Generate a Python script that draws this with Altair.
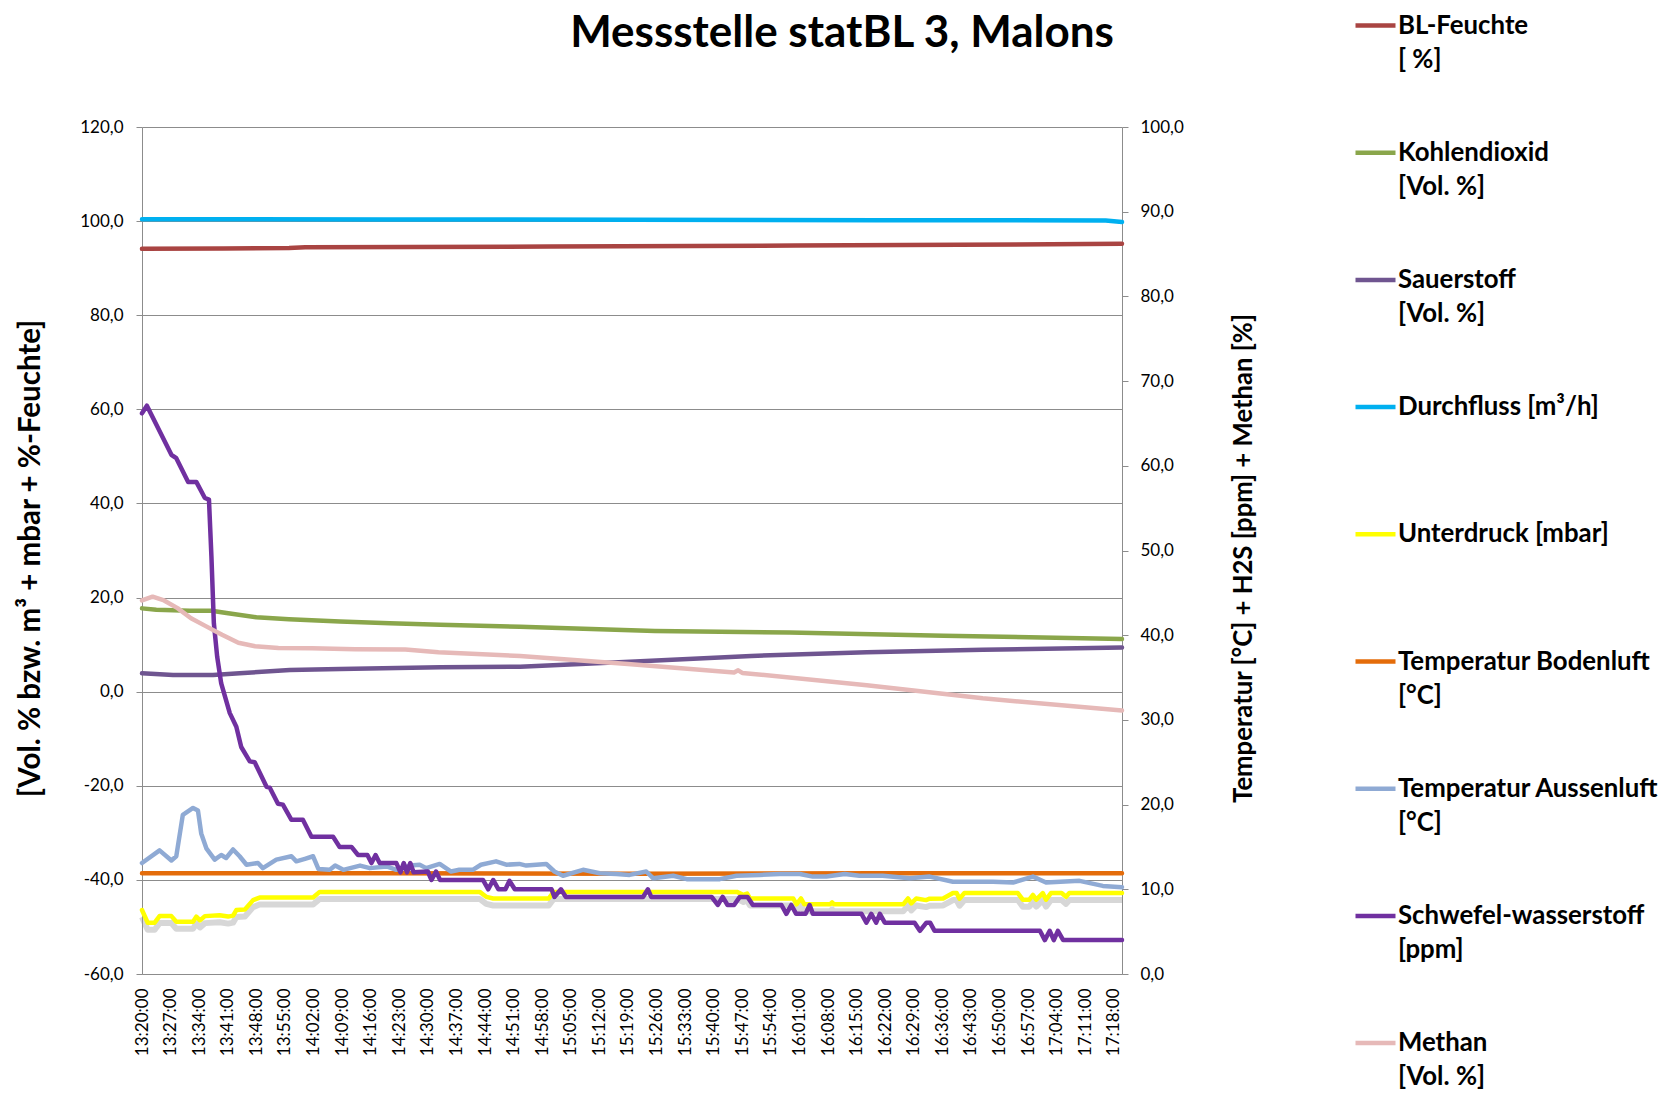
import json
import altair as alt
import pandas as pd

TITLE = "Messstelle statBL 3, Malons"
LEFT_TITLE = "[Vol. % bzw. m³ + mbar + %-Feuchte]"
RIGHT_TITLE = "Temperatur [°C] + H2S [ppm] + Methan [%]"

X_TICK_MIN = [0, 7, 14, 21, 28, 35, 42, 49, 56, 63, 70, 77, 84, 91, 98, 105, 112, 119,
              126, 133, 140, 147, 154, 161, 168, 175, 182, 189, 196, 203, 210, 217, 224, 231, 238]
X_TICK_LABELS = ["13:20:00", "13:27:00", "13:34:00", "13:41:00", "13:48:00", "13:55:00",
                 "14:02:00", "14:09:00", "14:16:00", "14:23:00", "14:30:00", "14:37:00",
                 "14:44:00", "14:51:00", "14:58:00", "15:05:00", "15:12:00", "15:19:00",
                 "15:26:00", "15:33:00", "15:40:00", "15:47:00", "15:54:00", "16:01:00",
                 "16:08:00", "16:15:00", "16:22:00", "16:29:00", "16:36:00", "16:43:00",
                 "16:50:00", "16:57:00", "17:04:00", "17:11:00", "17:18:00"]
LEFT_TICKS = [-60, -40, -20, 0, 20, 40, 60, 80, 100, 120]
LEFT_TICK_LABELS = ["-60,0", "-40,0", "-20,0", "0,0", "20,0", "40,0", "60,0", "80,0", "100,0", "120,0"]
RIGHT_TICKS = [0, 10, 20, 30, 40, 50, 60, 70, 80, 90, 100]
RIGHT_TICK_LABELS = ["0,0", "10,0", "20,0", "30,0", "40,0", "50,0", "60,0", "70,0", "80,0", "90,0", "100,0"]

SERIES = ["BL-Feuchte|[ %]", "Kohlendioxid|[Vol. %]", "Sauerstoff|[Vol. %]",
          "Durchfluss [m³/h]|\u00a0", "Unterdruck [mbar]|\u00a0",
          "Temperatur Bodenluft|[°C]", "Temperatur Aussenluft|[°C]",
          "Schwefel-wasserstoff|[ppm]", "Methan|[Vol. %]"]
COLORS = ["#A94442", "#8AA64B", "#6F5590", "#00B0F0", "#FFFF00",
          "#E46C0A", "#8FAAD4", "#7030A0", "#E6B9B8"]
WIDTHS = [4.5, 4.5, 4.5, 4.5, 4.5, 4.5, 3.5, 5.5, 4.5]

# --- left axis series (minutes after 13:20, value) ---
BL_M = [0, 20, 36, 40, 100, 160, 200, 240]
BL_V = [94.1, 94.2, 94.3, 94.45, 94.6, 94.8, 94.95, 95.2]

CO2_M = [0, 3.5, 11.7, 17, 20.7, 28, 36, 48.5, 60.7, 73, 92.6, 125.6, 158.6, 196.3, 240]
CO2_V = [17.7, 17.4, 17.2, 17.2, 16.7, 15.8, 15.4, 14.9, 14.55, 14.2, 13.8, 12.9, 12.55, 11.9, 11.2]

O2_M = [0, 7.6, 17.4, 23.9, 36.2, 48.5, 73, 92.6, 120.8, 149.2, 177.5, 205.9, 240]
O2_V = [3.9, 3.55, 3.55, 3.9, 4.6, 4.8, 5.2, 5.3, 6.4, 7.6, 8.4, 8.9, 9.4]

DF_M = [0, 60, 120, 180, 236, 240]
DF_V = [100.4, 100.35, 100.3, 100.2, 100.15, 99.8]

UD_M = [0, 1.4, 3.1, 4.3, 7.2, 8.4, 12.5, 13.3, 14.2, 15.4, 19, 21.1, 22.3, 23.1, 25.2, 27.2,
        28.8, 41.9, 43.5, 82.7, 84.3, 86, 99.6, 100.8, 145.7, 147.3, 148.2, 148.9, 159.5,
        160.3, 161.4, 162.2, 168.5, 169, 169.5, 186.4, 187.6, 188.4, 189.6, 192, 192.9, 196.2,
        198.6, 199.5, 200.2, 201.4, 214.5, 215.7, 217.3, 218.2, 219, 220.6, 221.4, 222.6,
        225.2, 226.3, 227.1, 240]
UD_V = [-46.4, -49.1, -49.1, -47.7, -47.7, -48.9, -48.9, -47.8, -48.6, -47.7, -47.5, -47.8,
        -47.6, -46.4, -46.3, -44.3, -43.75, -43.75, -42.55, -42.55, -43.6, -43.95, -43.95,
        -42.55, -42.55, -43.2, -42.9, -43.95, -43.95, -45.2, -43.95, -45.2, -45.2, -44.8,
        -45.2, -45.2, -43.95, -45.0, -43.95, -44.3, -44.0, -43.95, -42.8, -42.8, -44.0, -42.8,
        -42.8, -44.2, -44.2, -43.2, -44.2, -42.8, -44.2, -42.8, -42.8, -43.6, -42.8, -42.8]

# --- right axis series ---
TB_M = [0, 60, 120, 180, 240]
TB_V = [11.9, 11.9, 11.85, 11.9, 11.9]

TA_M = [0, 4.3, 7.2, 8.4, 10, 12.5, 13.7, 14.5, 15.8, 17.8, 19.4, 20.6, 22.3, 23.9, 25.6, 28.4,
        29.6, 32.9, 36.6, 37.8, 39.9, 41.9, 43.2, 46, 47.3, 49.3, 53.4, 55.8, 59.9, 62.3, 65.6,
        68, 69.6, 72.9, 75.7, 77.7, 81, 83, 86.7, 89.2, 92.4, 94.1, 99, 101, 103.1, 108, 112.1,
        116.2, 119.4, 123.5, 125.2, 130.1, 133.4, 141.5, 145.6, 151.3, 156.2, 161.1, 164.3,
        167.6, 172.1, 175.7, 181.4, 188, 192.9, 198.6, 208.4, 213.3, 218.2, 221.4, 229.6,
        235.3, 240]
TA_V = [13.1, 14.6, 13.4, 13.9, 18.8, 19.6, 19.3, 16.6, 14.8, 13.5, 14.05, 13.7, 14.7, 13.9,
        12.9, 13.1, 12.5, 13.5, 13.9, 13.3, 13.6, 13.9, 12.4, 12.3, 12.8, 12.3, 12.8, 12.5, 12.7,
        12.3, 12.8, 12.9, 12.5, 13.0, 12.1, 12.3, 12.3, 12.9, 13.3, 12.9, 13.0, 12.8, 13.0, 12.1,
        11.6, 12.3, 11.9, 11.8, 11.7, 12.1, 11.3, 11.6, 11.2, 11.2, 11.6, 11.7, 11.8, 11.8, 11.5,
        11.5, 11.8, 11.6, 11.6, 11.3, 11.5, 10.9, 10.9, 10.8, 11.5, 10.8, 11.0, 10.4, 10.25]

H2S_M = [0, 1.2, 7.2, 8.4, 11.3, 13.3, 15.4, 16.4, 17, 17.6, 18.4, 19.4, 21.5, 23.1, 24.3, 26.4,
         27.6, 30.5, 31.3, 33.3, 34.5, 36.6, 39.4, 41.5, 46.8, 48.4, 51.3, 52.9, 55.2, 56.2,
         57.2, 58.2, 62.3, 63.3, 64.1, 64.9, 65.7, 66.5, 70, 70.9, 72, 73, 83.5, 84.8, 86, 87.3,
         89, 90, 91.3, 100.3, 101, 102.6, 103.8, 122.7, 123.9, 124.7, 139.5, 141, 142.2, 143.4,
         145, 146.4, 148.3, 149.6, 156.6, 157.8, 159, 160.2, 162.5, 163.5, 164.3, 176.2, 177.4,
         178.6, 179.8, 180.7, 181.9, 189.2, 190.5, 192.1, 193, 194.1, 219.9, 221.1, 222.3,
         223.3, 224.3, 225.6, 240]
H2S_V = [66.2, 67.1, 61.3, 60.9, 58.1, 58.1, 56.2, 56.0, 49.3, 41.4, 37.5, 34.3, 30.8, 29.2,
         26.8, 25.1, 25.0, 22.1, 22.0, 20.1, 20.0, 18.2, 18.2, 16.2, 16.2, 15.0, 15.0, 14.05,
         14.05, 13.1, 14.05, 13.1, 13.1, 12.0, 13.1, 12.0, 13.1, 12.0, 12.1, 11.1, 12.1, 11.1,
         11.1, 10.0, 11.1, 10.0, 10.0, 11.0, 10.0, 10.0, 9.1, 10.0, 9.1, 9.1, 10.0, 9.1, 9.1,
         8.15, 9.1, 8.15, 8.15, 9.1, 9.1, 8.15, 8.15, 7.1, 8.15, 7.1, 7.1, 8.15, 7.1, 7.1, 6.06,
         7.1, 6.06, 7.1, 6.06, 6.06, 5.1, 6.06, 6.06, 5.1, 5.1, 4.0, 5.1, 4.0, 5.1, 4.0, 4.0]

CH4_M = [0, 2.6, 5.4, 8.7, 12, 15.5, 19.6, 23.6, 27.7, 33.4, 41.6, 52.2, 64.5, 72.6, 92.6, 119,
         145, 146, 147, 177.5, 205.9, 240]
CH4_V = [44.1, 44.55, 44.1, 43.2, 42.0, 41.1, 40.05, 39.1, 38.7, 38.5, 38.45, 38.35, 38.3, 38.0,
         37.55, 36.6, 35.6, 35.85, 35.55, 34.1, 32.55, 31.1]


def frame(name, mins, vals):
    return pd.DataFrame({"series": name, "m": mins, "v": vals})


left_df = pd.concat([
    frame(SERIES[0], BL_M, BL_V),
    frame(SERIES[1], CO2_M, CO2_V),
    frame(SERIES[2], O2_M, O2_V),
    frame(SERIES[3], DF_M, DF_V),
    frame(SERIES[4], UD_M, UD_V),
])
shadow_df = frame(SERIES[4], UD_M, UD_V)
right_df = pd.concat([
    frame(SERIES[5], TB_M, TB_V),
    frame(SERIES[6], TA_M, TA_V),
    frame(SERIES[7], H2S_M, H2S_V),
    frame(SERIES[8], CH4_M, CH4_V),
])

FONT = "Lato"
GRID = "#8c8c8c"

x_enc = alt.X(
    "m:Q",
    scale=alt.Scale(domain=[0, 240], nice=False, zero=False),
    axis=alt.Axis(
        values=X_TICK_MIN,
        labelExpr=f"{json.dumps(X_TICK_LABELS)}[indexof({json.dumps(X_TICK_MIN)}, datum.value)]",
        labelAngle=-90, labelFontSize=17, labelPadding=14, ticks=False, tickSize=0,
        grid=False, domainColor=GRID, labelColor="black", labelFont=FONT,
    ),
    title=None,
)

left_y = alt.Y(
    "v:Q",
    scale=alt.Scale(domain=[-60, 120], nice=False, zero=False),
    axis=alt.Axis(
        orient="left", values=LEFT_TICKS,
        labelExpr=f"{json.dumps(LEFT_TICK_LABELS)}[indexof({json.dumps(LEFT_TICKS)}, datum.value)]",
        grid=True, gridColor=GRID, gridWidth=1, tickColor=GRID, tickSize=6,
        domainColor=GRID, labelPadding=13, labelFontSize=17, labelColor="black", labelFont=FONT,
        titleFont=FONT, titleFontSize=29.5, titleFontWeight="bold", titleColor="black",
        titleAngle=270, titleX=-112, titleY=431, titleAlign="center", titleBaseline="middle",
    ),
    title=LEFT_TITLE,
)

right_y = alt.Y(
    "v:Q",
    scale=alt.Scale(domain=[0, 100], nice=False, zero=False),
    axis=alt.Axis(
        orient="right", values=RIGHT_TICKS,
        labelExpr=f"{json.dumps(RIGHT_TICK_LABELS)}[indexof({json.dumps(RIGHT_TICKS)}, datum.value)]",
        grid=False, tickColor=GRID, tickSize=6, domainColor=GRID, labelPadding=12,
        labelFontSize=17, labelColor="black", labelFont=FONT,
        titleFont=FONT, titleFontSize=25.7, titleFontWeight="bold", titleColor="black",
        titleAngle=270, titleX=121, titleY=431, titleAlign="center", titleBaseline="middle",
    ),
    title=RIGHT_TITLE,
)

legend = alt.Legend(
    orient="none", legendX=1211, legendY=-116, title=None, direction="vertical",
    symbolType="M-1,-0.4L1,-0.4", symbolSize=1600, symbolStrokeWidth=4,
    labelFont=FONT, labelFontSize=25.8, labelFontWeight="bold", labelColor="black",
    labelExpr="split(datum.label, '|')", labelLimit=400, labelOffset=0,
    labelBaseline="alphabetic", rowPadding=65.2, padding=0,
)

color_enc = alt.Color("series:N", scale=alt.Scale(domain=SERIES, range=COLORS),
                      sort=SERIES, legend=legend)
width_enc = alt.StrokeWidth("series:N", scale=alt.Scale(domain=SERIES, range=WIDTHS), legend=None)

shadow = alt.Chart(shadow_df).mark_line(
    color="#9a9a9a", opacity=0.4, strokeWidth=6, yOffset=7, strokeJoin="round"
).encode(x=x_enc, y=left_y)

left_lines = alt.Chart(left_df).mark_line(strokeJoin="round", strokeCap="round").encode(
    x=x_enc, y=left_y, color=color_enc, strokeWidth=width_enc
)

right_lines = alt.Chart(right_df).mark_line(strokeJoin="round", strokeCap="round").encode(
    x=x_enc, y=right_y, color=color_enc, strokeWidth=width_enc
)

chart = alt.layer(alt.layer(shadow, left_lines), right_lines).resolve_scale(
    y="independent"
).properties(
    width=980, height=847,
    padding={"left": 134, "top": 119, "right": 539, "bottom": 116},
    autosize=alt.AutoSizeParams(type="none"),
    title=alt.TitleParams(TITLE, font=FONT, fontSize=44, fontWeight="bold", color="black",
                          anchor="middle", dx=210, offset=-45),
).configure(
    style={"guide-label": {"lineHeight": 34}}
).configure_view(strokeWidth=0)

chart.save("out.html", embed_options={"renderer": "svg", "actions": False})
